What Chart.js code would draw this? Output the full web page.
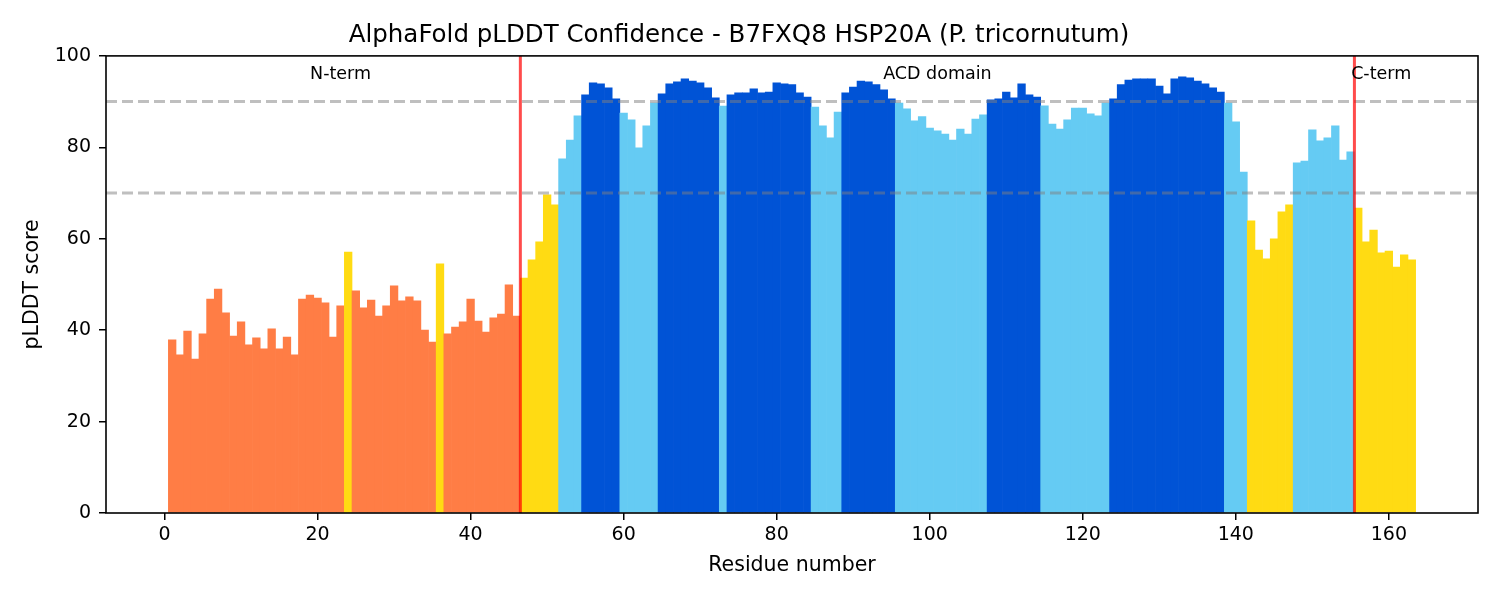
<!DOCTYPE html>
<html>
<head>
<meta charset="utf-8">
<script src="https://cdn.jsdelivr.net/npm/chart.js@4.4.1/dist/chart.umd.min.js"></script>
<style>
  html, body { margin: 0; padding: 0; background: #fff; }
  #wrap { width: 1500px; height: 600px; }
</style>
</head>
<body>
<div id="wrap"><canvas id="chart" width="1500" height="600"></canvas></div>
<script>
// pLDDT per residue (residue 1..163)
const plddt = [
  37.9, 34.6, 39.8, 33.7, 39.2, 46.8, 49.0, 43.8, 38.7, 41.8,
  36.8, 38.3, 35.9, 40.3, 35.9, 38.5, 34.6, 46.8, 47.7, 47.0,
  46.0, 38.5, 45.3, 57.1, 48.6, 44.9, 46.6, 43.1, 45.3, 49.7,
  46.4, 47.3, 46.4, 40.0, 37.4, 54.5, 39.2, 40.7, 41.8, 46.8,
  42.0, 39.6, 42.7, 43.5, 49.9, 43.1, 51.4, 55.4, 59.3, 69.6,
  67.4, 77.5, 81.6, 86.9, 91.5, 94.1, 93.9, 93.0, 90.6, 87.5,
  86.0, 79.9, 84.7, 89.7, 91.7, 93.9, 94.3, 95.0, 94.5, 94.1,
  93.0, 90.8, 89.0, 91.5, 91.9, 91.9, 92.8, 91.9, 92.1, 94.1,
  93.9, 93.7, 91.9, 91.0, 88.8, 84.7, 82.1, 87.7, 91.9, 93.2,
  94.5, 94.3, 93.7, 92.6, 90.6, 89.7, 88.4, 85.8, 86.7, 84.2,
  83.6, 82.9, 81.6, 84.0, 82.9, 86.2, 87.1, 90.4, 90.6, 92.1,
  90.8, 93.9, 91.5, 91.0, 89.1, 85.1, 84.0, 86.0, 88.6, 88.6,
  87.3, 86.9, 89.7, 90.6, 93.7, 94.7, 95.0, 95.0, 95.0, 93.4,
  91.7, 95.0, 95.4, 95.2, 94.5, 93.9, 93.0, 92.1, 89.7, 85.6,
  74.6, 63.9, 57.5, 55.6, 60.0, 65.9, 67.4, 76.6, 77.0, 83.8,
  81.4, 82.1, 84.7, 77.2, 79.0, 66.7, 59.3, 61.9, 56.9, 57.3,
  53.8, 56.5, 55.4
]
const residues = plddt.map((_, i) => i + 1)

const xTicks = [0, 20, 40, 60, 80, 100, 120, 140, 160]
const yTicks = [0, 20, 40, 60, 80, 100]
const confLines = [90, 70]
const domainBounds = [46.5, 155.5]
const domainLabels = ["N-term", "ACD domain", "C-term"]
const domainLabelX = [23, 101, 159]

// AlphaFold confidence colours
function barColor(v) {
  if (v > 90) return "#0053D6"
  if (v > 70) return "#65CBF3"
  if (v > 50) return "#FFDB13"
  return "#FF7D45"
}

const font = "'DejaVu Sans', sans-serif"
Chart.defaults.font.family = font
Chart.defaults.color = "#000"

const overlay = {
  id: "overlay",
  afterDatasetsDraw(chart) {
    const { ctx, chartArea: a, scales: { x, y } } = chart
    ctx.save()
    ctx.beginPath()
    ctx.rect(a.left, a.top, a.right - a.left, a.bottom - a.top)
    ctx.clip()

    // confidence thresholds
    ctx.strokeStyle = "rgba(128, 128, 128, 0.5)"
    ctx.lineWidth = 3
    ctx.setLineDash([11, 5])
    confLines.forEach(v => {
      const py = y.getPixelForValue(v)
      ctx.beginPath()
      ctx.moveTo(a.left, py)
      ctx.lineTo(a.right, py)
      ctx.stroke()
    })

    // domain boundaries
    ctx.setLineDash([])
    ctx.strokeStyle = "rgba(255, 0, 0, 0.7)"
    ctx.lineWidth = 3
    domainBounds.forEach(v => {
      const px = x.getPixelForValue(v)
      ctx.beginPath()
      ctx.moveTo(px, a.top)
      ctx.lineTo(px, a.bottom)
      ctx.stroke()
    })

    // domain labels
    ctx.fillStyle = "#000"
    ctx.font = "17.5px " + font
    ctx.textAlign = "center"
    ctx.textBaseline = "middle"
    domainLabels.forEach((t, i) => {
      ctx.fillText(t, x.getPixelForValue(domainLabelX[i]), y.getPixelForValue(96))
    })
    ctx.restore()

    // frame
    ctx.save()
    ctx.strokeStyle = "#000"
    ctx.lineWidth = 1.6
    ctx.strokeRect(a.left, a.top, a.right - a.left, a.bottom - a.top)
    ctx.restore()
  }
}

new Chart(document.getElementById("chart"), {
  type: "bar",
  data: {
    datasets: [{
      data: residues.map((r, i) => ({ x: r, y: plddt[i] })),
      backgroundColor: plddt.map(barColor),
      borderWidth: 0,
      barPercentage: 1,
      categoryPercentage: 1
    }]
  },
  options: {
    responsive: false,
    animation: false,
    layout: { padding: { left: 0, right: 22, top: 0, bottom: 0 } },
    plugins: {
      legend: { display: false },
      tooltip: { enabled: false },
      title: {
        display: true,
        text: "AlphaFold pLDDT Confidence - B7FXQ8 HSP20A (P. tricornutum)",
        color: "#000",
        font: { size: 24.5, weight: "normal" },
        padding: { top: 20.5, bottom: 6 }
      }
    },
    scales: {
      x: {
        type: "linear",
        min: -7.65,
        max: 171.65,
        offset: false,
        afterBuildTicks: s => { s.ticks = xTicks.map(v => ({ value: v })) },
        afterFit: s => { s.height = 87 },
        ticks: { font: { size: 19 }, padding: 4, maxRotation: 0 },
        grid: { display: true, drawOnChartArea: false, drawTicks: true, tickLength: 7, color: "#000", lineWidth: 1.5, offset: false },
        border: { display: false },
        title: { display: true, text: "Residue number", font: { size: 20.5 }, padding: { bottom: 22 } }
      },
      y: {
        min: 0,
        max: 100,
        afterBuildTicks: s => { s.ticks = yTicks.map(v => ({ value: v })) },
        afterFit: s => { s.width = 106 },
        ticks: { font: { size: 19 }, padding: 8 },
        grid: { display: true, drawOnChartArea: false, drawTicks: true, tickLength: 7, color: "#000", lineWidth: 1.5 },
        border: { display: false },
        title: { display: true, text: "pLDDT score", font: { size: 20.5 }, padding: { top: 20 } }
      }
    }
  },
  plugins: [overlay]
})
</script>
</body>
</html>
